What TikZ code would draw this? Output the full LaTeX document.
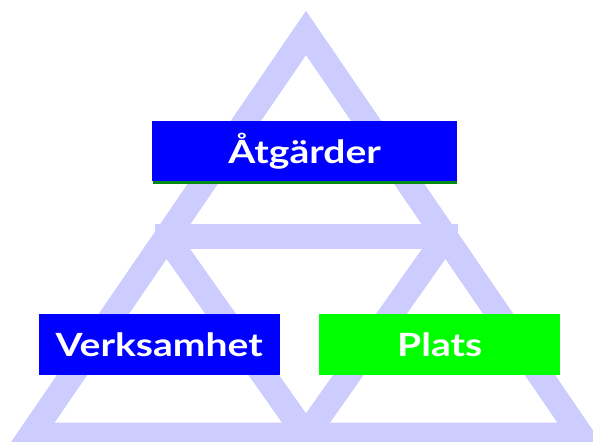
\documentclass[tikz,border=0pt]{standalone}
\usepackage{fontspec}
\setmainfont{Lato}
\newfontfamily\boxfont[FakeStretch=1.22]{Lato}
\definecolor{lav}{RGB}{204,204,255}
\definecolor{boxblue}{RGB}{0,0,255}
\definecolor{boxgreen}{RGB}{0,255,0}
\definecolor{shadegreen}{RGB}{0,140,20}
\begin{document}
\begin{tikzpicture}[x=1pt,y=-1pt,
  band/.style={draw=lav,line width=25pt,line join=miter,miter limit=10},
  label/.style={inner sep=0pt,minimum height=60pt,text=white,
    font=\boxfont\fontsize{32}{38}\selectfont\bfseries},
  bluebox/.style={label,fill=boxblue},
  greenbox/.style={label,fill=boxgreen}]
\useasboundingbox[fill=white] (0,0) rectangle (593,441);
% triangle frame
\coordinate (apex) at (306,33);
\coordinate (bl) at (31,435);
\coordinate (br) at (581,435);
\coordinate (ml) at (166,236.5);
\coordinate (mr) at (446,236.5);
\coordinate (bm) at (306,435);
\draw[band] (apex) -- (bl) -- (br) -- cycle;
\draw[draw=lav,line width=25pt] (155,236.5) -- (458,236.5);
\draw[band] (ml) -- (bm) -- (mr);
% boxes
\fill[shadegreen] (153,123) rectangle (457,183.5);
\node[bluebox,minimum width=305pt,anchor=north west] (atg) at (152,121) {Åtgärder};
\node[bluebox,minimum width=241pt,minimum height=61pt,anchor=north west] (verk) at (38.5,314) {Verksamhet};
\node[greenbox,minimum width=241pt,minimum height=61pt,anchor=north west] (plats) at (319,314) {Plats};
\end{tikzpicture}
\end{document}
